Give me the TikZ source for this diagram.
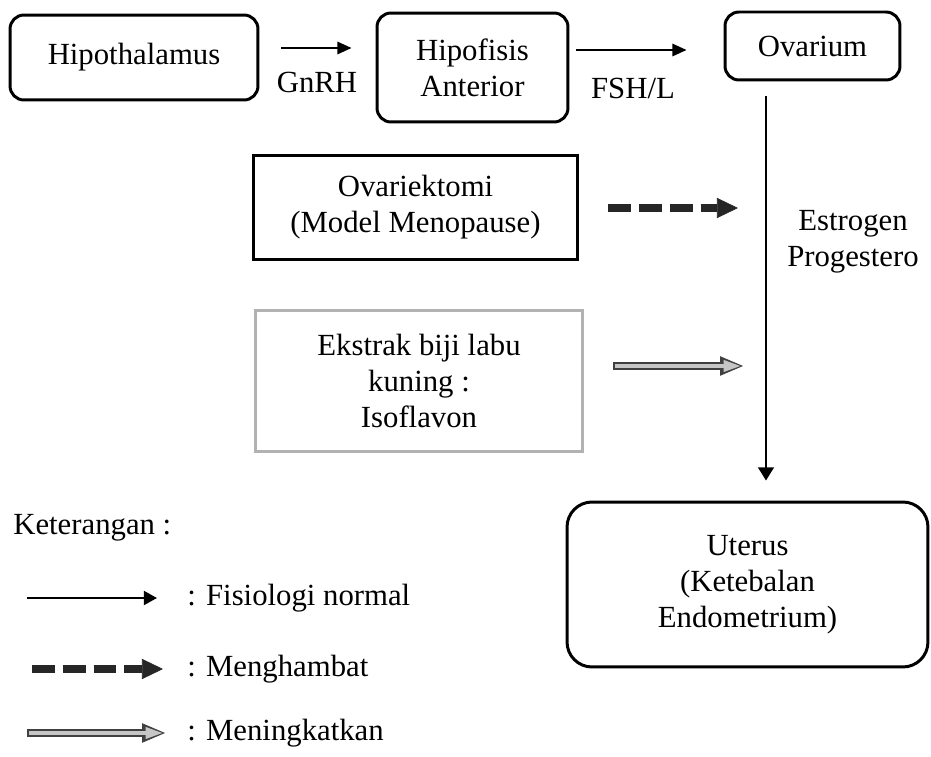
\documentclass[tikz,border=0pt]{standalone}
\usepackage{fontspec}
\setmainfont{Liberation Serif}
\usetikzlibrary{arrows.meta}

\begin{document}
\begin{tikzpicture}[
  x=0.02cm, y=-0.02cm,
  every node/.style={font=\fontsize{17.5}{20.5}\selectfont, align=center, inner sep=0pt},
  organ/.style={draw, line width=1.7pt, rounded corners=0.28cm},
  treat/.style={draw, line width=1.7pt},
  flow/.style={line width=1.1pt, -{Triangle[length=8pt, width=7pt]}},
  inhibit/.style={line width=4.5pt, black!85,
    dash pattern=on 13pt off 4.5pt,
    -{Triangle[length=12pt, width=11.5pt, line width=0.4pt]}},
  boostout/.style={line width=4.8pt, gray!50!black,
    -{Triangle[length=13pt, width=11pt, line width=0.4pt]}},
  boostin/.style={line width=2.4pt, gray!45,
    -{Triangle[length=9.5pt, width=7pt, line width=0pt]}, shorten >=1.6pt},
]
\useasboundingbox (0,0) rectangle (931,757);

% Hormone axis along the top
\node[organ, minimum width=4.96cm, minimum height=1.7cm] (hypo) at (134,57.5) {Hipothalamus};
\node[organ, minimum width=3.82cm, minimum height=2.18cm] (hipo) at (472.5,67.5) {Hipofisis\\Anterior};
\node[organ, minimum width=3.5cm, minimum height=1.36cm] (ovar) at (812.5,46) {Ovarium};

\draw[flow, shorten <=0.44cm, shorten >=0.48cm] (hypo.east |- 0,48) -- (hipo.west |- 0,48);
\node (gnrh) at (317,82) {GnRH};
\draw[flow, shorten <=0.14cm, shorten >=0.74cm] (hipo.east |- 0,50) -- (ovar.west |- 0,50);
\node (fsh) at (633,88) {FSH/L};

% Uterus and the hormone line
\node[organ, rounded corners=0.5cm, minimum width=7.22cm, minimum height=3.3cm] (uterus) at (747.5,584.5) {Uterus\\(Ketebalan\\Endometrium)};
\draw[flow, -{Triangle[length=7.5pt, width=9pt]}, shorten <=0.3cm, shorten >=0.4cm]
  (ovar.south -| 766,0) -- (uterus.north -| 766,0);
\node (hormon) at (853,241.5) {Estrogen\\Progestero};

% Treatments
\node[treat, minimum width=6.5cm, minimum height=2.1cm] (ovx) at (415.5,207.5) {Ovariektomi\\(Model Menopause)};
\node[treat, draw=gray!60, minimum width=6.56cm, minimum height=2.84cm] (ekstrak) at (419,381) {Ekstrak biji labu\\kuning :\\Isoflavon};

\coordinate (dashend) at (738,208);
\draw[inhibit, shorten <=0.58cm] (ovx.east |- dashend) -- (dashend);

\coordinate (boostend) at (743,366);
\draw[boostout, shorten <=0.58cm] (ekstrak.east |- boostend) -- (boostend);
\draw[boostin, shorten <=0.62cm] (ekstrak.east |- boostend) -- (boostend);

% Legend
\node[anchor=west] (ket) at (13,528) {Keterangan :};
\node[anchor=west] (lg1) at (187,598) {: Fisiologi normal};
\node[anchor=west] (lg2) at (187,669) {: Menghambat};
\node[anchor=west] (lg3) at (187,733) {: Meningkatkan};

\draw[flow, -{Triangle[length=7.5pt, width=8pt]}] ([xshift=-3.2cm]lg1.west) -- ([xshift=-0.6cm]lg1.west);
\draw[inhibit] ([xshift=-3.1cm]lg2.west) -- ([xshift=-0.48cm]lg2.west);
\draw[boostout] ([xshift=-3.2cm]lg3.west) -- ([xshift=-0.44cm]lg3.west);
\draw[boostin] ([xshift=-3.16cm]lg3.west) -- ([xshift=-0.44cm]lg3.west);

\end{tikzpicture}
\end{document}
